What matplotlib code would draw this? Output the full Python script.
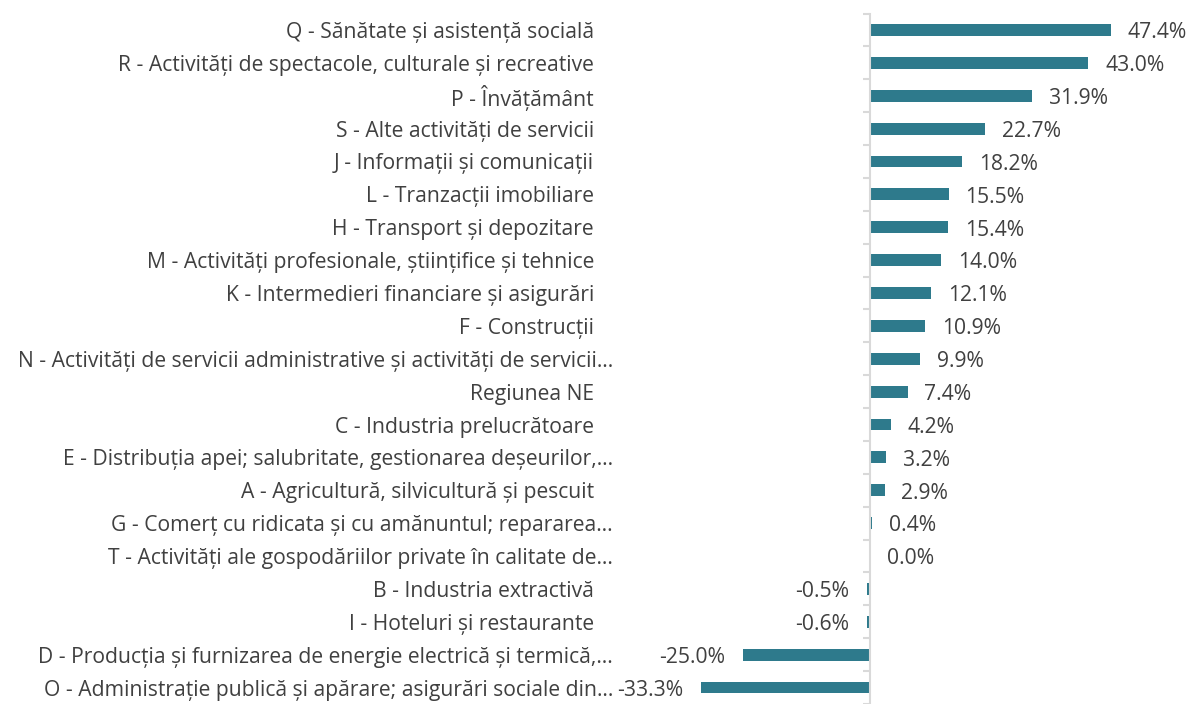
import matplotlib
matplotlib.use("Agg")
import matplotlib.pyplot as plt
from matplotlib.transforms import offset_copy

plt.rcParams['font.family'] = ['Open Sans', 'DejaVu Sans']

categories = [
    "Q - Sănătate și asistență socială",
    "R - Activități de spectacole, culturale și recreative",
    "P - Învățământ",
    "S - Alte activități de servicii",
    "J - Informații și comunicații",
    "L - Tranzacții imobiliare",
    "H - Transport și depozitare",
    "M - Activități profesionale, științifice și tehnice",
    "K - Intermedieri financiare și asigurări",
    "F - Construcții",
    "N - Activități de servicii administrative și activități de servicii…",
    "Regiunea NE",
    "C - Industria prelucrătoare",
    "E - Distribuția apei; salubritate, gestionarea deșeurilor,…",
    "A - Agricultură, silvicultură și pescuit",
    "G - Comerț cu ridicata și cu amănuntul; repararea…",
    "T - Activități ale gospodăriilor private în calitate de…",
    "B - Industria extractivă",
    "I - Hoteluri și restaurante",
    "D - Producția și furnizarea de energie electrică și termică,…",
    "O - Administrație publică și apărare; asigurări sociale din…",
]
values = [47.4, 43.0, 31.9, 22.7, 18.2, 15.5, 15.4, 14.0, 12.1, 10.9, 9.9,
          7.4, 4.2, 3.2, 2.9, 0.4, 0.0, -0.5, -0.6, -25.0, -33.3]

BAR = "#2E7A8C"
TXT = "#404040"
GRID = "#D9D9D9"
FS = 15.2

W, H = 1190, 704
fig = plt.figure(figsize=(W / 100, H / 100), dpi=100)
L, R, T = 615, 1190, 13.5
ax = fig.add_axes([L / W, 0, (R - L) / W, (H - T) / H])

n = len(categories)
pos = list(range(n))
ax.barh(pos, values, height=0.36, color=BAR, zorder=2)
ax.set_xlim(-50.2, 63.0)
ax.set_ylim((H - 30) / 33, -0.5)

for s in ("top", "right", "bottom"):
    ax.spines[s].set_visible(False)
ax.spines["left"].set_position(("data", 0))
ax.spines["left"].set_color(GRID)
ax.spines["left"].set_linewidth(1.5)
ax.set_xticks([])
ax.set_yticks([k - 0.5 for k in range(n + 1)])
ax.set_yticklabels([])
ax.tick_params(axis="y", direction="out", length=5, width=1.5, color=GRID)

# category names, right-aligned to the left of the plotting area
ytr = ax.get_yaxis_transform()
for i, name in enumerate(categories):
    right = -21 if not name.endswith("…") else -2
    tr = offset_copy(ytr, fig=fig, x=right, y=-2.5, units="dots")
    ax.text(0, i, name, transform=tr, ha="right", va="center",
            fontsize=FS, color=TXT, clip_on=False)

# value labels beside each bar
for i, v in enumerate(values):
    if v < 0:
        ax.annotate(f"{v:.1f}%", (v, i), xytext=(-13, -2), textcoords="offset points",
                    ha="right", va="center", fontsize=FS, color=TXT)
    else:
        ax.annotate(f"{v:.1f}%", (v, i), xytext=(12, -2), textcoords="offset points",
                    ha="left", va="center", fontsize=FS, color=TXT)

fig.savefig("out.png", dpi=100)
